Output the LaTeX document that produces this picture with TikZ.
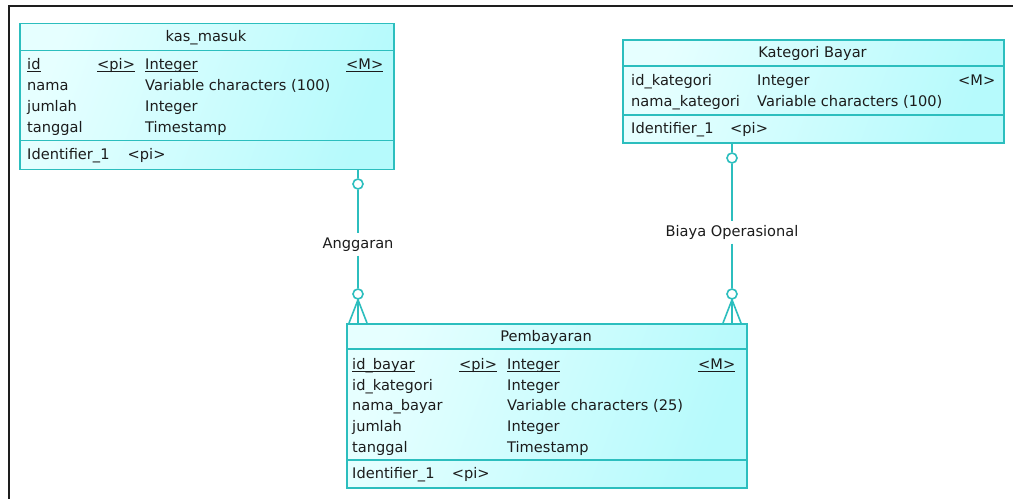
\documentclass[tikz,border=0pt]{standalone}
\usepackage{fontspec}
\setmainfont{DejaVu Sans}
\usetikzlibrary{calc}
\definecolor{edge}{RGB}{44,190,190}
\definecolor{fillA}{RGB}{230,255,255}
\definecolor{fillB}{RGB}{182,250,252}
\definecolor{ink}{RGB}{28,28,28}
\definecolor{frameink}{RGB}{30,30,30}
% underlined cell text
\newcommand\ulin[1]{\setbox0\hbox{#1}\rlap{\rule[-2.2pt]{\wd0}{0.9pt}}\box0}
\begin{document}
\begin{tikzpicture}[x=1pt,y=-1pt,
  entity/.style={draw=edge, line width=1.6pt, left color=fillA, right color=fillB,
    shading angle=70, anchor=north west, inner sep=0pt},
  sep/.style={draw=edge, line width=1.6pt},
  cell/.style={anchor=base west, inner sep=0pt, text=ink, font=\fontsize{14.6}{16}\selectfont},
  head/.style={cell, anchor=base},
  rel/.style={draw=edge, line width=1.6pt},
  knot/.style={circle, draw=edge, fill=white, line width=1.6pt, minimum size=10pt, inner sep=0pt},
  lbl/.style={fill=white, text=ink, font=\fontsize{14.6}{16}\selectfont,
    text height=10.6pt, text depth=3.4pt, inner xsep=2pt, inner ysep=4pt},
  frameline/.style={draw=frameink, line width=1.4pt}]
\useasboundingbox (0,0) rectangle (1013,499);
\fill[white] (0,0) rectangle (1013,499);
\draw[frameline] (1013,6) -- (9,6) -- (9,499);

% ---- kas_masuk ----
\node[entity, minimum width=374pt, minimum height=146pt] (km) at (19,22.5) {};
\draw[sep] (km.west |- 0,50.5) -- (km.east |- 0,50.5);
\draw[sep] (km.west |- 0,140.5) -- (km.east |- 0,140.5);
\node[head] (km-title) at (206,41.5) {kas\_masuk};
\node[cell] (km-r1a) at (27,69.5) {\ulin{id}};
\node[cell] (km-r1b) at (97,69.5) {\ulin{<pi>}};
\node[cell] (km-r1c) at (145,69.5) {\ulin{Integer}};
\node[cell] (km-r1d) at (346,69.5) {\ulin{<M>}};
\node[cell] (km-r2a) at (27,90.5) {nama};
\node[cell] (km-r2c) at (145,90.5) {Variable characters (100)};
\node[cell] (km-r3a) at (27,111.2) {jumlah};
\node[cell] (km-r3c) at (145,111.2) {Integer};
\node[cell] (km-r4a) at (27,132) {tanggal};
\node[cell] (km-r4c) at (145,132) {Timestamp};
\node[cell] (km-ida) at (27,159) {Identifier\_1};
\node[cell] (km-idb) at (127.5,159) {<pi>};

% ---- Kategori Bayar ----
\node[entity, minimum width=381pt, minimum height=103pt] (kb) at (622,39) {};
\draw[sep] (kb.west |- 0,66) -- (kb.east |- 0,66);
\draw[sep] (kb.west |- 0,115) -- (kb.east |- 0,115);
\node[head] (kb-title) at (812.5,57.5) {Kategori Bayar};
\node[cell] (kb-r1a) at (631,85.3) {id\_kategori};
\node[cell] (kb-r1c) at (757,85.3) {Integer};
\node[cell] (kb-r1d) at (958,85.3) {<M>};
\node[cell] (kb-r2a) at (631,106) {nama\_kategori};
\node[cell] (kb-r2c) at (757,106) {Variable characters (100)};
\node[cell] (kb-ida) at (631,133.3) {Identifier\_1};
\node[cell] (kb-idb) at (730,133.3) {<pi>};

% ---- Pembayaran ----
\node[entity, minimum width=400pt, minimum height=164pt] (pb) at (346,323) {};
\draw[sep] (pb.west |- 0,349) -- (pb.east |- 0,349);
\draw[sep] (pb.west |- 0,460) -- (pb.east |- 0,460);
\node[head] (pb-title) at (546,341.3) {Pembayaran};
\node[cell] (pb-r1a) at (352,369.3) {\ulin{id\_bayar}};
\node[cell] (pb-r1b) at (459,369.3) {\ulin{<pi>}};
\node[cell] (pb-r1c) at (507,369.3) {\ulin{Integer}};
\node[cell] (pb-r1d) at (698,369.3) {\ulin{<M>}};
\node[cell] (pb-r2a) at (352,390) {id\_kategori};
\node[cell] (pb-r2c) at (507,390) {Integer};
\node[cell] (pb-r3a) at (352,410.7) {nama\_bayar};
\node[cell] (pb-r3c) at (507,410.7) {Variable characters (25)};
\node[cell] (pb-r4a) at (352,431.3) {jumlah};
\node[cell] (pb-r4c) at (507,431.3) {Integer};
\node[cell] (pb-r5a) at (352,452) {tanggal};
\node[cell] (pb-r5c) at (507,452) {Timestamp};
\node[cell] (pb-ida) at (352,478.3) {Identifier\_1};
\node[cell] (pb-idb) at (451.7,478.3) {<pi>};

% ---- Anggaran: kas_masuk -> Pembayaran ----
\node[knot] (a1) at (358,184) {};
\node[knot] (a2) at (358,294) {};
\node[lbl] (la) at (358,244.5) {Anggaran};
\draw[rel] (km.south -| a1) -- (a1.north);
\draw[rel] (a1.south) -- (la.north);
\draw[rel] (la.south) -- (a2.north);
\draw[rel] ($(pb.north -| a2)+(-9,0)$) -- (a2.south) -- ($(pb.north -| a2)+(9,0)$);
\draw[rel] (a2.south) -- (pb.north -| a2);

% ---- Biaya Operasional: Kategori Bayar -> Pembayaran ----
\node[knot] (b1) at (732,158) {};
\node[knot] (b2) at (732,294) {};
\node[lbl] (lb) at (732,232.4) {Biaya Operasional};
\draw[rel] (kb.south -| b1) -- (b1.north);
\draw[rel] (b1.south) -- (lb.north);
\draw[rel] (lb.south) -- (b2.north);
\draw[rel] ($(pb.north -| b2)+(-9,0)$) -- (b2.south) -- ($(pb.north -| b2)+(9,0)$);
\draw[rel] (b2.south) -- (pb.north -| b2);
\end{tikzpicture}
\end{document}
